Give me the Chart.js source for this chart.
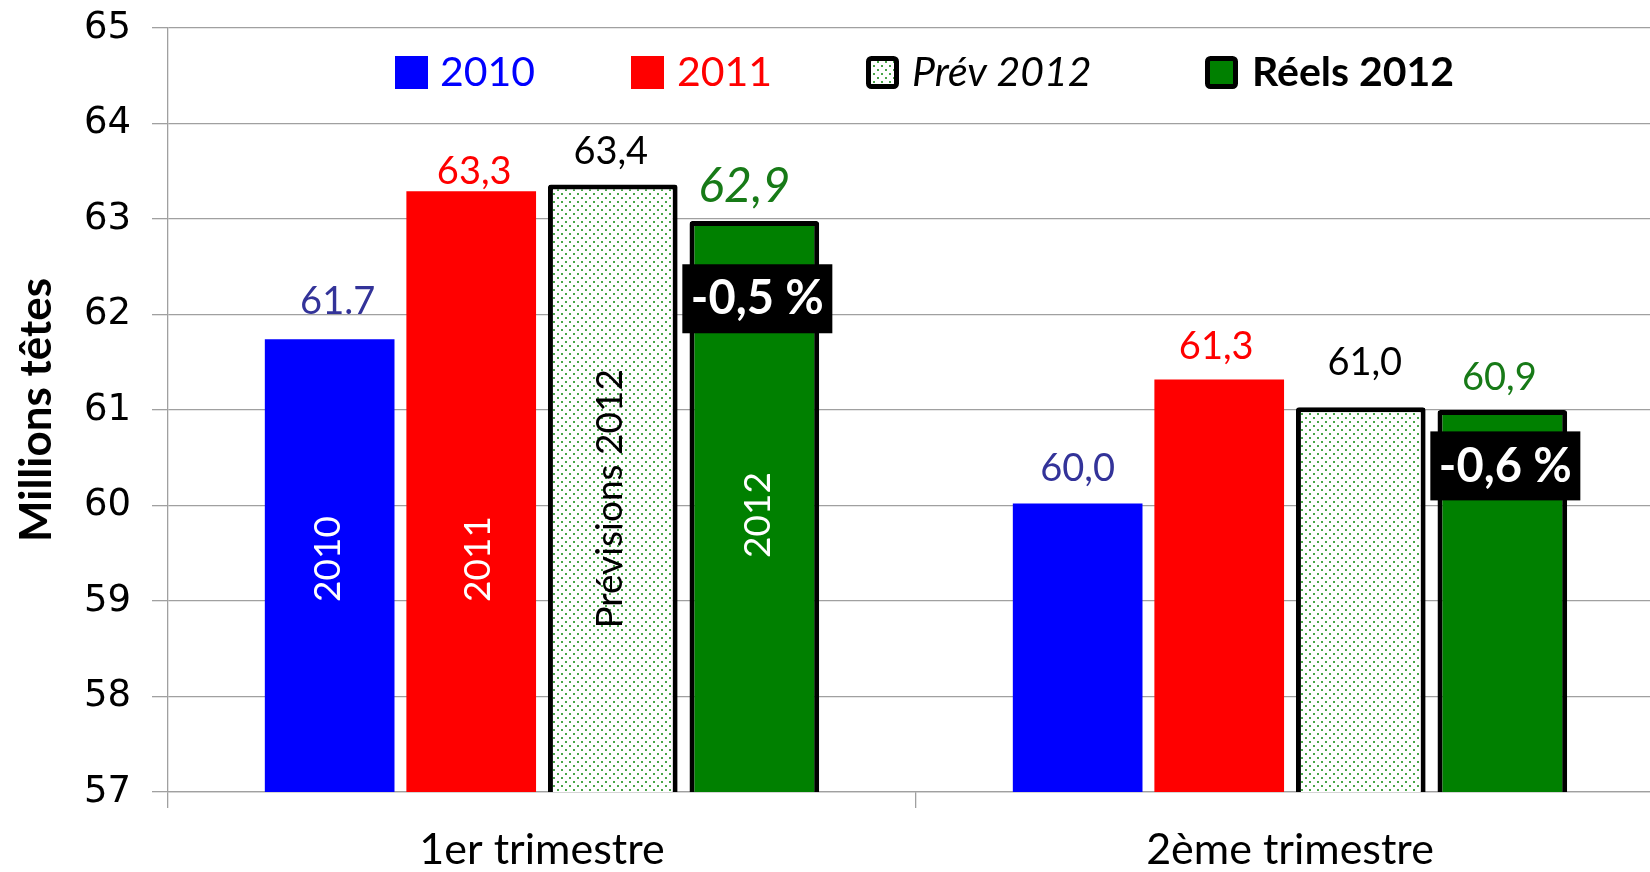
<!DOCTYPE html>
<html>
<head>
<meta charset="utf-8">
<script src="https://cdn.jsdelivr.net/npm/chart.js@4.4.1/dist/chart.umd.min.js"></script>
<style>
  html, body { margin: 0; padding: 0; background: #fff; overflow: hidden; width: 1650px; height: 872px; }
  #wrap { position: absolute; left: 0; top: 0; width: 1664px; height: 872px; }
</style>
</head>
<body>
<div id="wrap"><canvas id="c"></canvas></div>
<script>
// ---------- data ----------
const categories = ['1er trimestre', '2ème trimestre'];
const seriesNames = ['2010', '2011', 'Prév 2012', 'Réels 2012'];
const values2010 = [61.74, 60.02];
const values2011 = [63.29, 61.32];
const valuesPrev2012 = [63.36, 61.03];
const valuesReels2012 = [62.98, 61.0];
const labels2010 = ['61.7', '60,0'];
const labels2011 = ['63,3', '61,3'];
const labelsPrev2012 = ['63,4', '61,0'];
const labelsReels2012 = ['62,9', '60,9'];
const insideLabels = ['2010', '2011', 'Prévisions 2012', '2012'];
const evolutionLabels = ['-0,5 %', '-0,6 %'];
const yTicks = [57, 58, 59, 60, 61, 62, 63, 64, 65];

// ---------- styles ----------
const SANS = 'Lato, "Open Sans", sans-serif';
const BLUE = '#0000ff', RED = '#ff0000', GREEN = '#008000';

function makePattern() {
  const t = document.createElement('canvas');
  t.width = 8; t.height = 8;
  const g = t.getContext('2d');
  g.fillStyle = '#ffffff';
  g.fillRect(0, 0, 8, 8);
  g.fillStyle = 'rgba(40,150,40,0.85)';
  g.fillRect(1, 1, 2, 2);
  g.fillRect(5, 5, 2, 2);
  return document.getElementById('c').getContext('2d').createPattern(t, 'repeat');
}
const dotPattern = makePattern();

const labelTexts = [labels2010, labels2011, labelsPrev2012, labelsReels2012];
// per-label style: colour, font, lift above bar top (px), horizontal shift (px)
const labelStyle = [
  [{c: '#333399', f: 'normal 38px ' + SANS, lift: 38, dx: 8}, {c: '#333399', f: 'normal 38px ' + SANS, lift: 35, dx: 0}],
  [{c: '#ff0000', f: 'normal 38px ' + SANS, lift: 20, dx: 3}, {c: '#ff0000', f: 'normal 38px ' + SANS, lift: 33, dx: -3}],
  [{c: '#000000', f: 'normal 38px ' + SANS, lift: 33, dx: -2}, {c: '#000000', f: 'normal 38px ' + SANS, lift: 44, dx: 4}],
  [{c: '#177a17', f: 'italic 48px ' + SANS, lift: 34, dx: -10}, {c: '#177a17', f: 'normal 38px ' + SANS, lift: 32, dx: -3}]
];
// inside rotated labels (first category only): centre position in axis units
const insideLabelAt = [59.44, 59.44, 60.07, 59.9];
const insideLabelColor = ['#ffffff', '#ffffff', '#000000', '#ffffff'];
const insideLabelDx = [-2, 7, -3, 4];
// evolution boxes: centre in axis units
const evolutionAt = [62.17, 60.42];

const legendItems = [
  {x: 395, tx: 440, color: BLUE, font: 'normal 41px ' + SANS, fill: BLUE, border: false},
  {x: 631, tx: 677, color: RED, font: 'normal 41px ' + SANS, fill: RED, border: false},
  {x: 866, tx: 912, color: '#000', font: 'italic 41px ' + SANS, fill: 'pattern', border: true},
  {x: 1205, tx: 1252, color: '#000', font: 'bold 41px ' + SANS, fill: GREEN, border: true}
];

function roundRect(ctx, x, y, w, h, r) {
  ctx.beginPath();
  ctx.moveTo(x + r, y);
  ctx.arcTo(x + w, y, x + w, y + h, r);
  ctx.arcTo(x + w, y + h, x, y + h, r);
  ctx.arcTo(x, y + h, x, y, r);
  ctx.arcTo(x, y, x + w, y, r);
  ctx.closePath();
}

const annotations = {
  id: 'annotations',
  afterDatasetsDraw(chart) {
    const ctx = chart.ctx;
    const ys = chart.scales.y;
    ctx.save();
    // value labels
    chart.data.datasets.forEach((ds, di) => {
      const meta = chart.getDatasetMeta(di);
      meta.data.forEach((bar, i) => {
        const st = labelStyle[di][i];
        ctx.font = st.f;
        ctx.fillStyle = st.c;
        ctx.textAlign = 'center';
        ctx.textBaseline = 'middle';
        ctx.fillText(labelTexts[di][i], bar.x + st.dx, bar.y - st.lift);
      });
    });
    // rotated labels inside the first group of bars
    chart.data.datasets.forEach((ds, di) => {
      const bar = chart.getDatasetMeta(di).data[0];
      ctx.save();
      ctx.translate(bar.x + insideLabelDx[di], ys.getPixelForValue(insideLabelAt[di]));
      ctx.rotate(-Math.PI / 2);
      ctx.font = 'normal 37px ' + SANS;
      ctx.fillStyle = insideLabelColor[di];
      ctx.textAlign = 'center';
      ctx.textBaseline = 'middle';
      ctx.fillText(insideLabels[di], 0, 0);
      ctx.restore();
    });
    // evolution boxes on the "Réels 2012" bars
    const greenMeta = chart.getDatasetMeta(3);
    greenMeta.data.forEach((bar, i) => {
      const cx = bar.x + 3, cy = ys.getPixelForValue(evolutionAt[i]);
      ctx.fillStyle = '#000';
      ctx.fillRect(cx - 75, cy - 34, 150, 69);
      ctx.font = 'bold 47px ' + SANS;
      ctx.fillStyle = '#fff';
      ctx.textAlign = 'center';
      ctx.textBaseline = 'middle';
      ctx.fillText(evolutionLabels[i], cx, cy + 1);
    });
    // legend
    legendItems.forEach((it, k) => {
      const by = 56, bs = 33;
      if (it.border) {
        roundRect(ctx, it.x + 2.5, by + 2.5, bs - 5, bs - 5, 3);
        ctx.fillStyle = it.fill === 'pattern' ? dotPattern : it.fill;
        ctx.fill();
        ctx.lineWidth = 5;
        ctx.strokeStyle = '#000';
        ctx.stroke();
      } else {
        ctx.fillStyle = it.fill;
        ctx.fillRect(it.x, by, bs, bs);
      }
      ctx.font = it.font;
      ctx.fillStyle = it.color;
      ctx.textAlign = 'left';
      ctx.textBaseline = 'middle';
      ctx.fillText(seriesNames[k], it.tx, 73);
    });
    ctx.restore();
  }
};

const barCommon = { categoryPercentage: 0.757, barPercentage: 0.916 };

new Chart(document.getElementById('c'), {
  type: 'bar',
  data: {
    labels: categories,
    datasets: [
      Object.assign({ label: seriesNames[0], data: values2010, backgroundColor: BLUE, borderWidth: 0 }, barCommon),
      Object.assign({ label: seriesNames[1], data: values2011, backgroundColor: RED, borderWidth: 0 }, barCommon),
      Object.assign({ label: seriesNames[2], data: valuesPrev2012, backgroundColor: dotPattern, borderColor: '#000', borderWidth: 5, borderSkipped: false, borderRadius: 3 }, barCommon),
      Object.assign({ label: seriesNames[3], data: valuesReels2012, backgroundColor: GREEN, borderColor: '#000', borderWidth: 5, borderSkipped: false, borderRadius: 3 }, barCommon)
    ]
  },
  options: {
    responsive: true,
    maintainAspectRatio: false,
    animation: false,
    layout: { padding: { top: 28, left: 0, right: 0, bottom: 0 } },
    plugins: { legend: { display: false }, tooltip: { enabled: false } },
    scales: {
      x: {
        afterFit: (s) => { s.height = 80; s.paddingLeft = 0; s.paddingRight = 0; },
        grid: { drawOnChartArea: false, drawTicks: true, tickLength: 16, color: '#a0a0a0', lineWidth: 1.3 },
        border: { color: '#a0a0a0', width: 1.3 },
        ticks: { font: { family: SANS, size: 43 }, color: '#000', padding: 16 }
      },
      y: {
        min: 57, max: 65,
        afterFit: (s) => { s.width = 168; s.paddingTop = 0; s.paddingBottom = 0; },
        afterBuildTicks: (s) => { s.ticks = yTicks.map(v => ({ value: v })); },
        grid: { color: '#a0a0a0', lineWidth: 1.3, tickLength: 16 },
        border: { color: '#a0a0a0', width: 1.3 },
        ticks: { font: { family: '"DejaVu Sans", sans-serif', size: 37 }, color: '#000', padding: 21 },
        title: { display: true, text: 'Millions têtes', font: { family: SANS, size: 44, weight: 'bold' }, color: '#000', padding: { top: 10, bottom: 0 } }
      }
    }
  },
  plugins: [annotations]
});
</script>
</body>
</html>
